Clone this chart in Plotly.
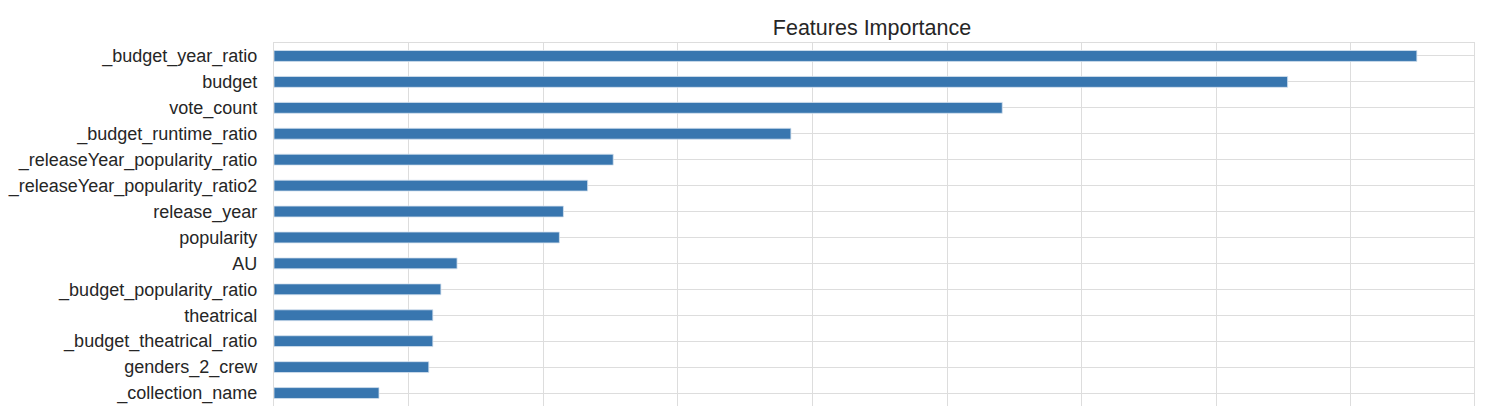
import plotly.graph_objects as go

features = [
    "_budget_year_ratio",
    "budget",
    "vote_count",
    "_budget_runtime_ratio",
    "_releaseYear_popularity_ratio",
    "_releaseYear_popularity_ratio2",
    "release_year",
    "popularity",
    "AU",
    "_budget_popularity_ratio",
    "theatrical",
    "_budget_theatrical_ratio",
    "genders_2_crew",
    "_collection_name",
]
importance = [
    0.0849, 0.0753, 0.0541, 0.0384, 0.0252, 0.0233, 0.0215,
    0.0212, 0.0136, 0.0124, 0.0118, 0.0118, 0.0115, 0.0078,
]

# page body has an 8px margin; compensate so the plot lands where the reference has it
OFF = 8
W, H = 1508 - OFF, 406 - OFF

fig = go.Figure(
    go.Bar(
        x=importance,
        y=features,
        orientation="h",
        width=0.42,
        marker=dict(color="#3876af", line=dict(color="#d5e2ef", width=0.8)),
    )
)

n = len(features)
fig.update_layout(
    width=W,
    height=H,
    margin=dict(l=270 - OFF, r=34, t=43 - OFF, b=0),
    paper_bgcolor="white",
    plot_bgcolor="white",
    showlegend=False,
    title=dict(
        text="Features Importance",
        x=(872 - OFF) / W,
        xanchor="center",
        xref="container",
        y=1 - (27 - OFF) / H,
        yanchor="middle",
        font=dict(family="Liberation Sans, Arial, sans-serif", size=21.5, color="#262626"),
    ),
    font=dict(family="Liberation Sans, Arial, sans-serif", size=18, color="#262626"),
)
fig.update_xaxes(
    range=[0, max(importance) * 1.05],
    dtick=0.01,
    showgrid=True,
    gridcolor="#dddddd",
    gridwidth=1.3,
    showticklabels=False,
    zeroline=False,
    showline=True,
    linecolor="#dddddd",
    linewidth=1.3,
    mirror=True,
)
fig.update_yaxes(
    type="category",
    categoryorder="array",
    categoryarray=features,
    range=[n - 0.5, -0.5],
    showgrid=True,
    gridcolor="#dddddd",
    gridwidth=1.3,
    zeroline=False,
    showline=True,
    linecolor="#dddddd",
    linewidth=1.3,
    mirror=True,
    ticks="",
    ticklabelstandoff=12,
    tickfont=dict(size=18, color="#262626"),
)

fig.write_html("out.html")
